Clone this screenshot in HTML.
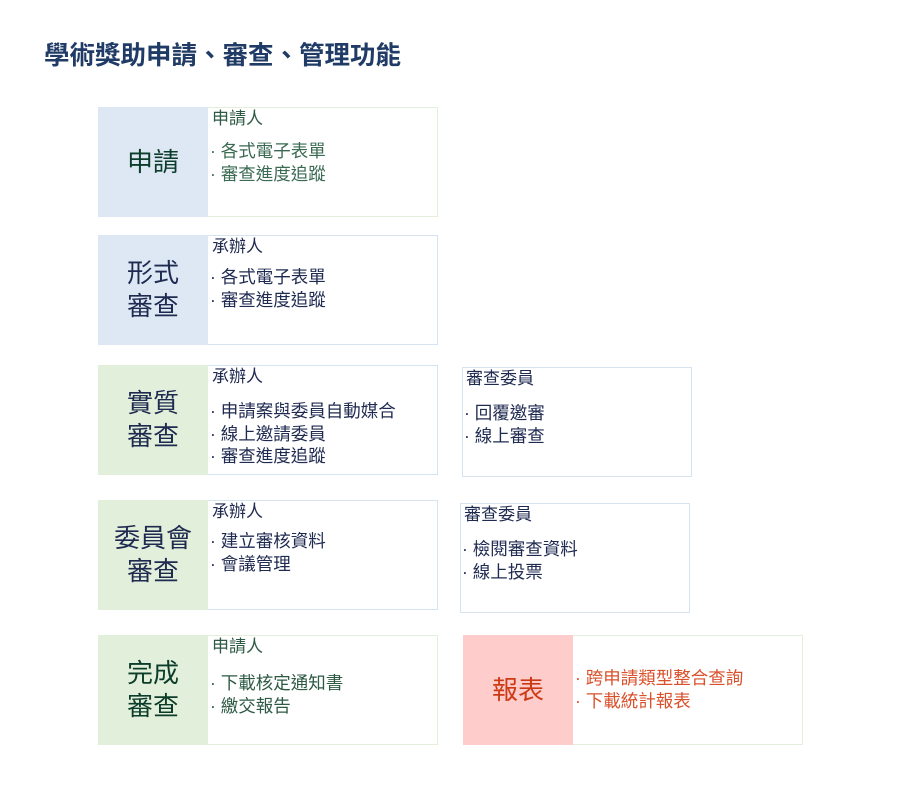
<!DOCTYPE html>
<html><head><meta charset="utf-8"><style>
body{margin:0;width:900px;height:800px;background:#fff;position:relative;font-family:"Liberation Sans","Noto Sans CJK TC",sans-serif;overflow:hidden}
.a{position:absolute;box-sizing:border-box}
.t{position:absolute;left:44px;top:35px;font-size:25.5px;font-weight:bold;color:#1f3b66;white-space:nowrap}
.l{display:flex;align-items:center;justify-content:center;text-align:center;font-size:26px;line-height:33px}
.r{background:#fff;border:1px solid #e2efda}
.h{position:absolute;font-size:17px;line-height:20px;white-space:nowrap}
.i{position:absolute;font-size:17.5px;line-height:22.5px;white-space:nowrap}
</style></head><body>
<div class="t">學術獎助申請、審查、管理功能</div>

<div class="a r" style="left:207px;top:107px;width:231px;height:110px"></div>
<div class="a l" style="left:98px;top:107px;width:110px;height:110px;background:#dde8f4;color:#0c3d2b">申請</div>
<div class="h" style="left:212px;top:109px;color:#2e5a44">申請人</div>
<div class="i" style="left:210px;top:140px;color:#3a6a52">· 各式電子表單<br>· 審查進度追蹤</div>

<div class="a r" style="left:207px;top:235px;width:231px;height:110px;border-color:#d6e3f0"></div>
<div class="a l" style="left:98px;top:235px;width:110px;height:110px;background:#dde8f4;color:#1f2a50">形式<br>審查</div>
<div class="h" style="left:212px;top:237px;color:#1f2a50">承辦人</div>
<div class="i" style="left:210px;top:266px;color:#1f2a50">· 各式電子表單<br>· 審查進度追蹤</div>

<div class="a r" style="left:207px;top:365px;width:231px;height:110px;border-color:#d6e3f0"></div>
<div class="a l" style="left:98px;top:365px;width:110px;height:110px;background:#e2efda;color:#1f2a50">實質<br>審查</div>
<div class="h" style="left:212px;top:367px;color:#1f2a50">承辦人</div>
<div class="i" style="left:210px;top:400px;color:#1f2a50">· 申請案與委員自動媒合<br>· 線上邀請委員<br>· 審查進度追蹤</div>
<div class="a r" style="left:462px;top:367px;width:230px;height:110px;border-color:#d6e3f0"></div>
<div class="h" style="left:466px;top:369px;color:#1f2a50">審查委員</div>
<div class="i" style="left:464px;top:402px;color:#1f2a50">· 回覆邀審<br>· 線上審查</div>

<div class="a r" style="left:207px;top:500px;width:231px;height:110px;border-color:#d6e3f0"></div>
<div class="a l" style="left:98px;top:500px;width:110px;height:110px;background:#e2efda;color:#1f2a50">委員會<br>審查</div>
<div class="h" style="left:212px;top:502px;color:#1f2a50">承辦人</div>
<div class="i" style="left:210px;top:530px;color:#1f2a50">· 建立審核資料<br>· 會議管理</div>
<div class="a r" style="left:460px;top:503px;width:230px;height:110px;border-color:#d6e3f0"></div>
<div class="h" style="left:464px;top:505px;color:#1f2a50">審查委員</div>
<div class="i" style="left:462px;top:538px;color:#1f2a50">· 檢閱審查資料<br>· 線上投票</div>

<div class="a r" style="left:207px;top:635px;width:231px;height:110px"></div>
<div class="a l" style="left:98px;top:635px;width:110px;height:110px;background:#e2efda;color:#0c3d2b">完成<br>審查</div>
<div class="h" style="left:212px;top:637px;color:#2e5a44">申請人</div>
<div class="i" style="left:210px;top:672px;color:#2e5a44">· 下載核定通知書<br>· 繳交報告</div>

<div class="a r" style="left:572px;top:635px;width:231px;height:110px"></div>
<div class="a l" style="left:463px;top:635px;width:110px;height:110px;background:#ffcccc;color:#cc3a14">報表</div>
<div class="i" style="left:575px;top:667px;color:#d9502a">· 跨申請類型整合查詢<br>· 下載統計報表</div>
</body></html>
